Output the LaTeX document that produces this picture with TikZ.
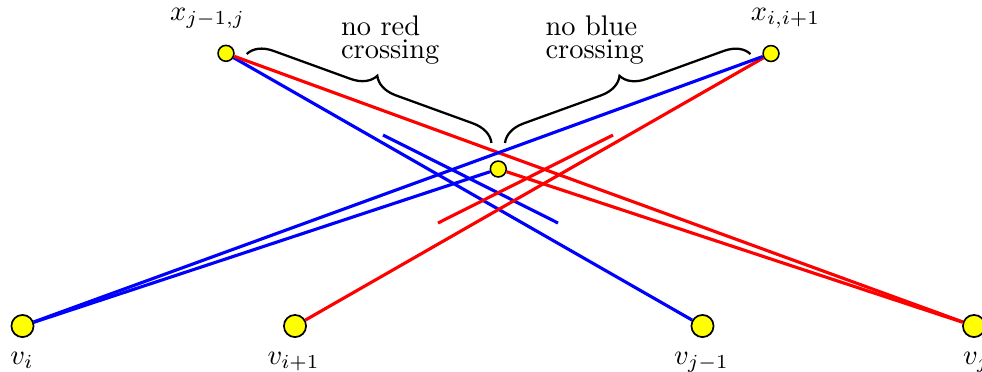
\documentclass[tikz,border=0pt]{standalone}
\usetikzlibrary{decorations.pathreplacing}
\definecolor{vyellow}{RGB}{255,255,0}
\definecolor{ered}{RGB}{255,0,0}
\definecolor{eblue}{RGB}{0,0,255}
\tikzset{
  bigv/.style={circle, draw=black, fill=vyellow, line width=0.6pt, minimum size=7.8pt, inner sep=0pt},
  smallv/.style={circle, draw=black, fill=vyellow, line width=0.55pt, minimum size=5.6pt, inner sep=0pt},
  redge/.style={draw=ered, line width=1.1pt},
  bedge/.style={draw=eblue, line width=1.1pt},
  bracestyle/.style={draw=black, line width=0.8pt, decorate, decoration={brace, amplitude=8.5pt}},
  lab/.style={anchor=base, inner sep=0pt},
  note/.style={anchor=base west, inner sep=0pt}
}
\begin{document}
\begin{tikzpicture}[x=0.352pt, y=-0.352pt]
\useasboundingbox (0,0) rectangle (982,371);
% vertices
\node[bigv] (vi) at (22.5,326) {};
\node[bigv] (vi1) at (295,326) {};
\node[bigv] (vj1) at (702.5,326) {};
\node[bigv] (vj) at (974,326) {};
\node[smallv] (xl) at (226,53.3) {};
\node[smallv] (xr) at (771,53.5) {};
\node[smallv] (c) at (498.3,169) {};
% free segment ends
\coordinate (bs1) at (383,135);
\coordinate (bs2) at (558,223);
\coordinate (rs1) at (438,223);
\coordinate (rs2) at (613,135);
% edges
\draw[bedge] (xl) -- (vj1);
\draw[bedge] (bs1) -- (bs2);
\draw[redge] (xl) -- (vj);
\draw[redge] (c) -- (vj);
\draw[redge] (xr) -- (vi1);
\draw[redge] (rs1) -- (rs2);
\draw[bedge] (xr) -- (vi);
\draw[bedge] (c) -- (vi);
% braces
\coordinate (b1s) at (246.7,54);
\coordinate (b1e) at (491.7,143);
\coordinate (b2s) at (505,143);
\coordinate (b2e) at (750.7,54);
\draw[bracestyle] (b1s) -- (b1e);
\draw[bracestyle] (b2s) -- (b2e);
% notes
\node[note] (n1) at (340.5,35) {\begin{tabular}[t]{@{}l@{}}no red\\[-3.8pt]crossing\end{tabular}};
\node[note] (n2) at (545,35) {\begin{tabular}[t]{@{}l@{}}no blue\\[-3.8pt]crossing\end{tabular}};
% labels
\node[lab] (lxl) at (207.5,20.5) {$x_{j-1,j}$};
\node[lab] (lxr) at (785.5,20.5) {$x_{i,i+1}$};
\node[lab] (lvi) at (22,364) {$v_i$};
\node[lab] (lvi1) at (293.5,364) {$v_{i+1}$};
\node[lab] (lvj1) at (701.5,364) {$v_{j-1}$};
\node[lab] (lvj) at (976,364) {$v_j$};
\end{tikzpicture}
\end{document}
